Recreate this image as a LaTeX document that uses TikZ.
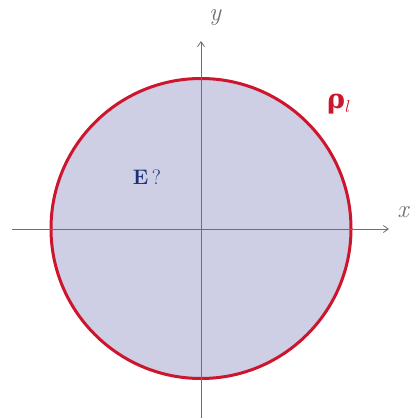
\documentclass[tikz,border=0pt]{standalone}
\usepackage{fontspec}
\usepackage{amsmath}
\newfontfamily\grfont{DejaVu Serif}
\definecolor{discfill}{RGB}{206,206,228}
\definecolor{rimred}{RGB}{205,22,45}
\definecolor{axisgray}{RGB}{110,110,120}
\definecolor{labblue}{RGB}{28,48,120}
\usetikzlibrary{arrows.meta}
\begin{document}
\begin{tikzpicture}[x=1pt,y=-1pt,
  axisline/.style={draw=axisgray,line width=0.8pt,-{Straight Barb[length=5pt,width=7pt]}},
  axislab/.style={text=axisgray,font=\fontsize{25}{25}\selectfont\itshape},
  disc/.style={circle,draw=rimred,line width=3pt,fill=discfill,minimum size=300pt,inner sep=0pt}]
\useasboundingbox (0,0) rectangle (411,418);
\node[disc] (D) at (201,228.5) {};
\coordinate (xs) at (12,229);
\coordinate (xe) at (389,229);
\coordinate (ys) at (201,418);
\coordinate (ye) at (201,41);
\draw[axisline] (xs) -- (xe);
\draw[axisline] (ys) -- (ye);
\node[axislab] (xl) at (403,212) {x};
\node[axislab] (yl) at (215,18) {y};
\node[text=labblue,font=\fontsize{21}{21}\selectfont] (E) at (147,177) {\textbf{E}\,?};
\node[text=rimred,font=\fontsize{27}{27}\selectfont] (rho) at (339,104) {{\grfont\bfseries ρ}$_{l}$};
\end{tikzpicture}
\end{document}
